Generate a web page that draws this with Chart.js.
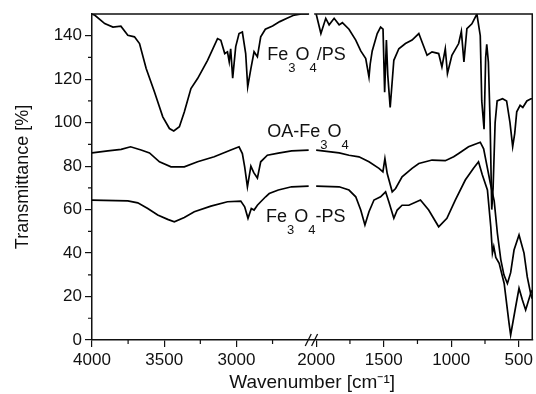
<!DOCTYPE html>
<html>
<head>
<meta charset="utf-8">
<script src="https://cdn.jsdelivr.net/npm/chart.js@4.4.1/dist/chart.umd.min.js"></script>
<style>
   html, body { margin: 0; padding: 0; background: #fff; }
</style>
</head>
<body>
<canvas id="myChart" width="536" height="394"></canvas>
<script>
// 시리즈 이름 (숫자는 아래첨자로 그림)
const seriesNames = ['Fe3O4/PS', 'OA-Fe3O4', 'Fe3O4-PS'];

// Fe3O4/PS (위쪽 곡선)
const fePsSlashWn = [4000, 3980, 3912, 3855, 3800, 3752, 3706, 3671, 3625, 3568, 3510, 3464, 3434, 3395, 3361, 3315, 3269, 3200, 3131, 3108, 3081, 3062, 3050, 3040, 3026, 3005, 2982, 2959, 2936, 2922, 2900, 2878, 2855, 2832, 2800, 2750, 2700, 2650, 2600, 2550, 2500,
   2000, 1965, 1929, 1904, 1867, 1830, 1806, 1757, 1707, 1670, 1633, 1609, 1600, 1585, 1548, 1523, 1505, 1493, 1480, 1470, 1452, 1425, 1388, 1339, 1290, 1240, 1179, 1142, 1093, 1069, 1044, 1028, 995, 945, 925, 906, 884, 847, 810, 785, 774, 757, 745, 737, 725, 712, 700, 690, 675, 660, 620, 590, 565, 545, 530, 515, 490, 470, 440, 410, 400];
const fePsSlashT = [150, 149.4, 145.6, 144, 144.4, 140.2, 139.5, 136.4, 124.9, 114.2, 102.7, 97.3, 96.2, 98.1, 104.9, 115.7, 120.3, 128.7, 138.7, 137.9, 131.8, 132.6, 128, 134, 120.5, 135, 141, 141.7, 131.8, 116.5, 124.9, 132.6, 130.3, 139.5, 143, 144.5, 146.5, 148, 149.5, 150, 150,
   150, 141, 148, 145, 148, 145, 146, 143, 138, 133, 129.5, 121, 127, 133, 141, 144, 143, 114, 138, 122, 107, 128.7, 134, 136.4, 138, 141, 131, 132.6, 131.8, 125.6, 134, 122.6, 131, 136.4, 142, 128, 143.3, 145.5, 150, 140, 110, 97, 130, 136, 128, 100, 60, 70, 100, 110, 111, 110, 100, 89, 95, 105, 108, 107, 110, 111, 111];

// OA-Fe3O4 (가운데 곡선)
const oaFeWn = [4000, 3890, 3798, 3733, 3660, 3602, 3533, 3453, 3361, 3269, 3154, 3039, 2982, 2959, 2943, 2924, 2900, 2880, 2855, 2832, 2786, 2710, 2618, 2500,
   2000, 1830, 1757, 1683, 1609, 1535, 1506, 1491, 1474, 1437, 1412, 1364, 1290, 1240, 1142, 1044, 982, 945, 872, 785, 760, 735, 710, 682, 658, 633, 610, 584, 560, 535, 498, 461, 437, 412, 400];
const oaFeT = [86.1, 87, 87.7, 88.9, 87.4, 86.1, 82, 79.7, 79.7, 82, 84.3, 87.4, 88.9, 85.8, 79.7, 70.5, 80, 77, 74.5, 82, 85, 86, 87, 87.4,
   87.4, 86.1, 85, 84.3, 82, 79, 77.4, 83.5, 76.6, 68.2, 69.7, 75.1, 79, 81.2, 82.8, 82.5, 84.3, 85.8, 88.9, 91, 88, 80, 72, 64, 49, 37, 30, 26, 31, 41.4, 48.3, 40, 29, 21.4, 19];

// Fe3O4-PS (아래 곡선)
const feDashPsWn = [4000, 3752, 3683, 3614, 3545, 3476, 3430, 3361, 3292, 3177, 3062, 2970, 2943, 2920, 2897, 2878, 2855, 2832, 2798, 2773, 2710, 2618, 2500,
   2000, 1830, 1757, 1707, 1670, 1639, 1609, 1572, 1523, 1486, 1462, 1425, 1400, 1364, 1314, 1228, 1167, 1093, 1032, 970, 896, 835, 798, 770, 732, 707, 695, 685, 670, 645, 608, 572, 560, 523, 498, 473, 449, 412, 400];
const feDashPsT = [64.4, 64, 63.1, 60.5, 57.5, 55.5, 54.4, 56.4, 59, 61.6, 63.6, 63.9, 61.3, 56, 60.5, 59.8, 62, 63.6, 65.9, 67.4, 69, 70.5, 70.8,
   70.8, 70.5, 69, 65.9, 59.8, 52.9, 59, 64.4, 65.9, 68.2, 63.6, 56, 59.8, 62, 62, 64.4, 59.8, 52.1, 56, 64.4, 73.6, 79, 82, 76, 69, 52, 40, 43, 38, 35.3, 26, 7.8, 2.3, 15.3, 23.8, 18.4, 13.8, 21.4, 23];

// 눈금
const xMajorTicks = [4000, 3500, 3000, 2000, 1500, 1000, 500];
const xMinorTicks = [3750, 3250, 2750, 1750, 1250, 750];
const yMajorTicks = [0, 20, 40, 60, 80, 100, 120, 140];
const yMinorTicks = [10, 30, 50, 70, 90, 110, 130];

// 라벨 위치 (파수, 투과율)
const labelWn = [2786, 2786, 2795];
const labelT = [128.7, 93.5, 54.5];

// 축 끊김: 4000~2500 | 2000~400
const RIGHT_START = 1552, RIGHT_K = 0.935;
function toAxis(w) {
   return w > 2250 ? 4000 - w : RIGHT_START + (2000 - w) * RIGHT_K;
}
function buildPoints(wn, t) {
   const pts = [];
   for (let i = 0; i < wn.length; i++) {
      if (i > 0 && wn[i - 1] > 2250 && wn[i] <= 2250) pts.push({x: 1526, y: null}); // 끊김
      pts.push({x: toAxis(wn[i]), y: t[i]});
   }
   return pts;
}

const ink = '#111';
const fontFamily = '"Liberation Sans", Arial, sans-serif';
const lineStyle = {borderColor: '#000', borderWidth: 1.7, pointRadius: 0, tension: 0, fill: false, spanGaps: false};

// 테두리, 끊김 표시, 보조 눈금, 곡선 이름
const decorPlugin = {
   id: 'decor',
   afterDraw(chart) {
      const {ctx, chartArea: a, scales: {x, y}} = chart;
      ctx.save();
      ctx.strokeStyle = ink;
      ctx.lineWidth = 1.5;
      ctx.beginPath();
      ctx.moveTo(a.left, a.top); ctx.lineTo(x.getPixelForValue(1503), a.top);
      ctx.moveTo(x.getPixelForValue(1538), a.top); ctx.lineTo(a.right, a.top); ctx.lineTo(a.right, a.bottom);
      ctx.stroke();

      ctx.lineWidth = 1.2;
      ctx.beginPath();
      for (const w of xMinorTicks) {
         const px = x.getPixelForValue(toAxis(w));
         ctx.moveTo(px, a.bottom); ctx.lineTo(px, a.bottom + 4);
      }
      for (const v of yMinorTicks) {
         const py = y.getPixelForValue(v);
         ctx.moveTo(a.left - 4, py); ctx.lineTo(a.left, py);
      }
      ctx.stroke();

      // 끊김 표시 //
      ctx.lineWidth = 1.3;
      ctx.beginPath();
      for (const u of [1497, 1541]) {
         const px = x.getPixelForValue(u);
         ctx.moveTo(px - 3, a.bottom + 6); ctx.lineTo(px + 3, a.bottom - 6);
      }
      ctx.stroke();

      ctx.fillStyle = ink;
      ctx.textBaseline = 'alphabetic';
      seriesNames.forEach((name, i) => {
         let px = x.getPixelForValue(toAxis(labelWn[i]));
         const py = y.getPixelForValue(labelT[i]);
         for (const ch of name) {
            const sub = /[0-9]/.test(ch);
            ctx.font = (sub ? '13px ' : '18px ') + fontFamily;
            ctx.fillText(ch, px, sub ? py + 12 : py);
            px += ctx.measureText(ch).width;
         }
      });
      ctx.restore();
   }
};

const ctx = document.getElementById('myChart').getContext('2d');
new Chart(ctx, {
   type: 'line',
   data: {
      datasets: [
         {label: seriesNames[0], data: buildPoints(fePsSlashWn, fePsSlashT), ...lineStyle},
         {label: seriesNames[1], data: buildPoints(oaFeWn, oaFeT), ...lineStyle},
         {label: seriesNames[2], data: buildPoints(feDashPsWn, feDashPsT), ...lineStyle},
      ]
   },
   options: {
      responsive: false,
      animation: false,
      devicePixelRatio: 1,
      layout: {padding: {top: 14, right: 2, left: 0, bottom: 0}},
      plugins: {legend: {display: false}, tooltip: {enabled: false}},
      scales: {
         x: {
            type: 'linear', min: 0, max: toAxis(400),
            afterBuildTicks: s => { s.ticks = xMajorTicks.map(w => ({value: toAxis(w)})); },
            afterFit: s => { s.height = 54; },
            grid: {drawOnChartArea: false, tickLength: 7, color: ink, lineWidth: 1.2},
            border: {color: ink, width: 1.5},
            ticks: {autoSkip: false, maxRotation: 0, padding: 3, color: ink,
               font: {family: fontFamily, size: 17},
               callback: (v, i) => xMajorTicks[i]},
            title: {display: true, text: 'Wavenumber [cm⁻¹]', color: ink, padding: {top: 0, bottom: 0},
               font: {family: fontFamily, size: 19}}
         },
         y: {
            min: 0, max: 150,
            afterBuildTicks: s => { s.ticks = yMajorTicks.map(v => ({value: v})); },
            afterFit: s => { s.width = 92; },
            grid: {drawOnChartArea: false, tickLength: 7, color: ink, lineWidth: 1.2},
            border: {color: ink, width: 1.5},
            ticks: {padding: 3, color: ink, font: {family: fontFamily, size: 17}},
            title: {display: true, text: 'Transmittance [%]', color: ink, padding: {top: 12, bottom: 0},
               font: {family: fontFamily, size: 18}}
         }
      }
   },
   plugins: [decorPlugin]
});
</script>
</body>
</html>
